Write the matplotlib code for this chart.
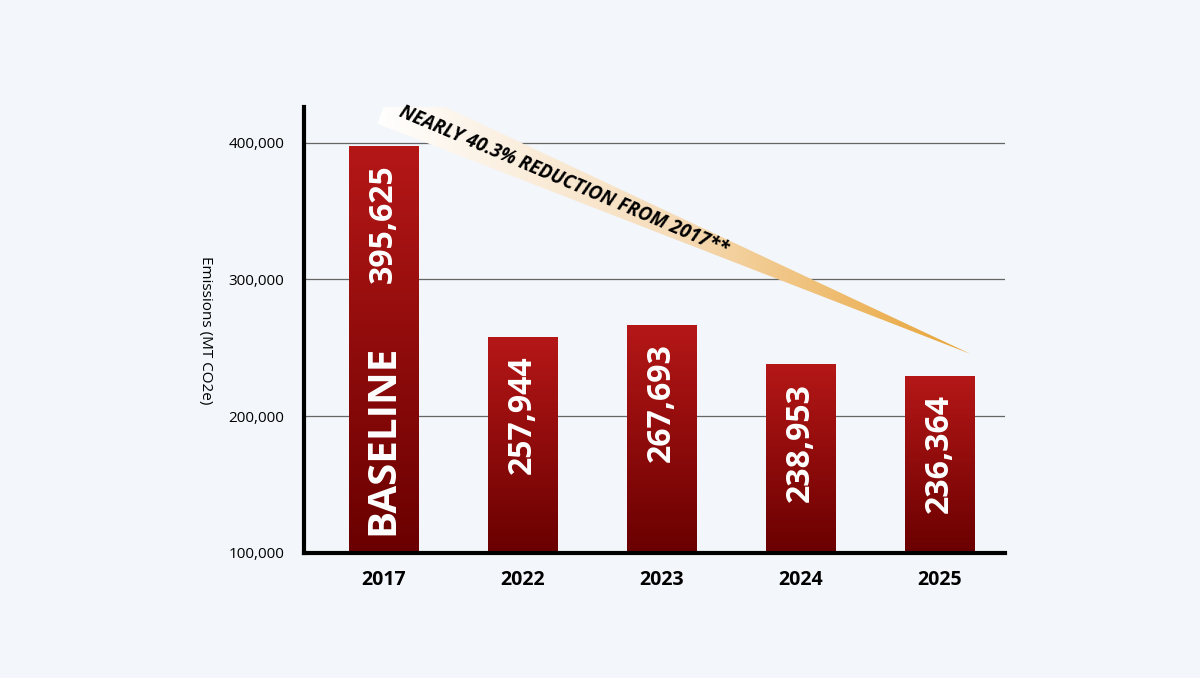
import numpy as np
import matplotlib
matplotlib.use("Agg")
import matplotlib.pyplot as plt
from matplotlib.colors import LinearSegmentedColormap
from matplotlib.patches import Polygon

plt.rcParams["font.family"] = ["Open Sans", "DejaVu Sans"]

years = ["2017", "2022", "2023", "2024", "2025"]
labels = ["395,625", "257,944", "267,693", "238,953", "236,364"]
# bar heights as drawn in the picture
heights = [397000, 257500, 266500, 237500, 229000]

BG = "#f3f6fa"
fig = plt.figure(figsize=(12, 6.78), dpi=100, facecolor=BG)
ax = fig.add_axes([304 / 1200, 1 - 553 / 678, 701 / 1200, 446 / 678])
ax.set_facecolor(BG)

for v in [200000, 300000, 400000]:
    ax.axhline(v, color="#666666", lw=0.9, zorder=1)

bar_cmap = LinearSegmentedColormap.from_list("bar", ["#6a0000", "#b51717"])
w = 0.5
for i, h in enumerate(heights):
    grad = np.linspace(0, 1, 256).reshape(-1, 1)
    ax.imshow(grad, cmap=bar_cmap, origin="lower", aspect="auto",
              extent=(i - w / 2, i + w / 2, 100000, h), zorder=2)
    ax.text(i, h - 13000, labels[i], rotation=90, ha="center", va="top",
            color="white", fontsize=23, fontweight="bold", zorder=3)
    if i == 0:
        ax.text(i, 113000, "BASELINE", rotation=90, ha="center", va="bottom",
                color="white", fontsize=29, fontweight="bold", zorder=3)

# reduction wedge
wedge = [(-0.043, 413800), (0.072, 443800), (4.22, 245600)]
poly = Polygon(wedge, closed=True, facecolor="none", edgecolor="none",
               transform=ax.transData, clip_on=False)
ax.add_patch(poly)
wcmap = LinearSegmentedColormap.from_list("w", ["#ffffff", "#f6dcb8", "#e8a233"])
g = np.linspace(0, 1, 256).reshape(1, -1)
im = ax.imshow(g, cmap=wcmap, aspect="auto", extent=(-0.05, 4.23, 245000, 444000),
               zorder=4)
im.set_clip_box(None)
im.set_clip_path(poly)
ax.text(0.12, 423000, "NEARLY 40.3% REDUCTION FROM 2017**", rotation=-23,
        rotation_mode="anchor", ha="left", va="center", fontsize=13.5,
        fontweight="bold", fontstyle="italic", color="black", zorder=5)
ax.set_xlim(-0.57, 4.47)
ax.set_ylim(100000, 426000)

ax.set_xticks(range(len(years)))
ax.set_xticklabels(years, fontsize=14, fontweight="bold")
ax.set_yticks([100000, 200000, 300000, 400000])
ax.set_yticklabels(["100,000", "200,000", "300,000", "400,000"], fontsize=11)
ax.tick_params(length=0, pad=14)
ax.tick_params(axis="x", pad=12)
for s in ["top", "right"]:
    ax.spines[s].set_visible(False)
for s in ["left", "bottom"]:
    ax.spines[s].set_linewidth(3)
    ax.spines[s].set_zorder(6)
ax.set_ylabel("Emissions (MT CO2e)", rotation=-90, fontsize=11, labelpad=22,
              va="bottom")

fig.savefig("out.png", dpi=100, facecolor=BG)
